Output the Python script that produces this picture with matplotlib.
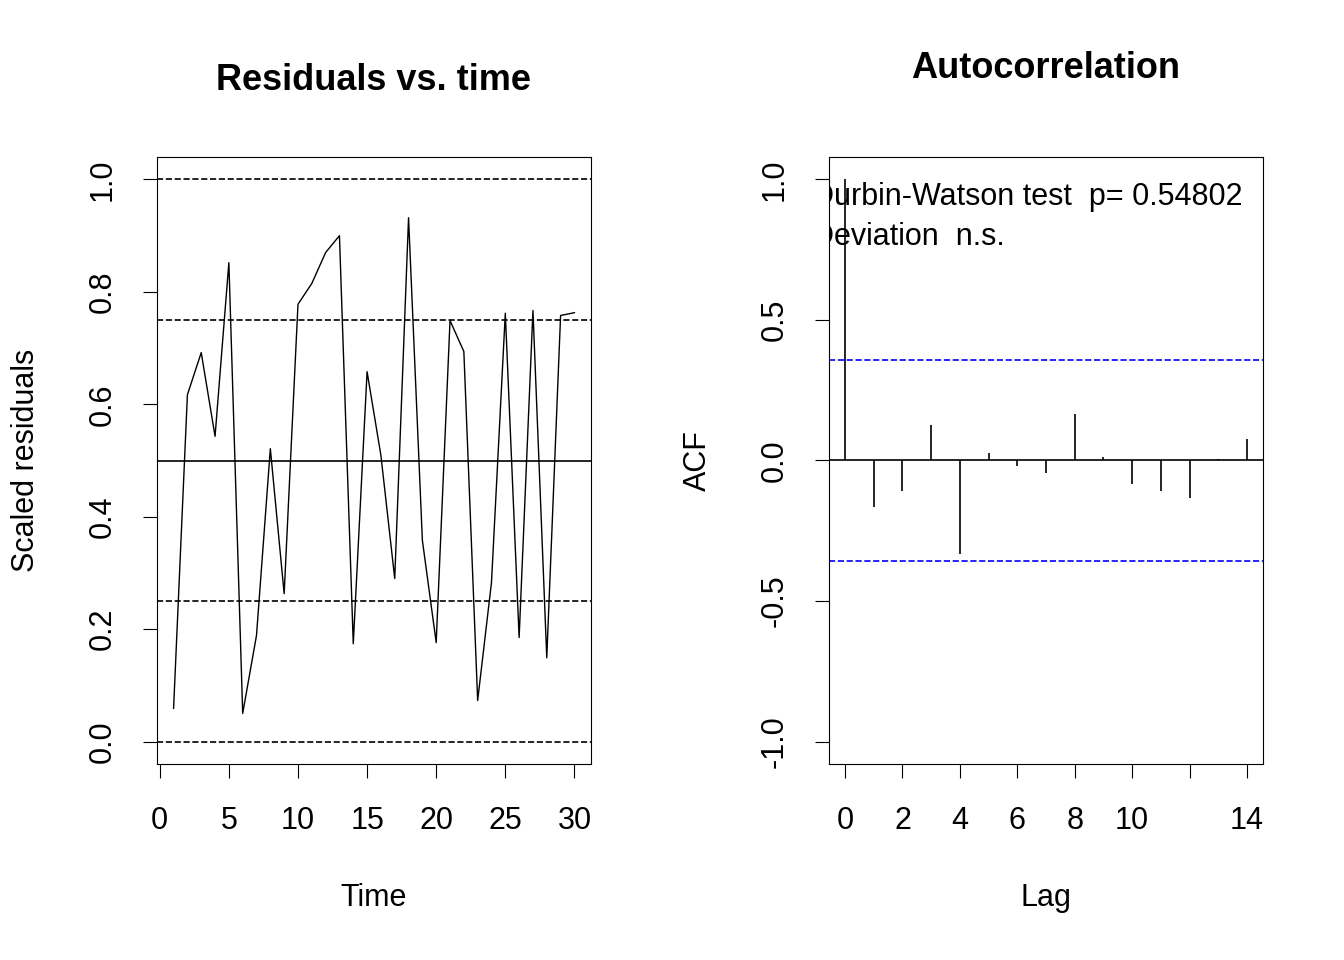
#!/usr/bin/env python

from matplotlib import pyplot as plt
import numpy as np

plt.rcParams["font.family"] = ["Liberation Sans", "DejaVu Sans"]

time = np.arange(1, 31)
resid = [0.059, 0.617, 0.692, 0.543, 0.852, 0.050, 0.189, 0.521, 0.263, 0.778,
         0.815, 0.870, 0.900, 0.174, 0.658, 0.509, 0.290, 0.932, 0.358, 0.176,
         0.749, 0.694, 0.073, 0.283, 0.762, 0.185, 0.767, 0.149, 0.758, 0.763]
lags = np.arange(0, 15)
acf = [1.0, -0.167, -0.107, 0.125, -0.331, 0.025, -0.020, -0.046, 0.164, 0.014,
       -0.082, -0.107, -0.135, 0.007, 0.078]
ci = 0.359
dw_p = "0.54802"

W, H = 1344, 960
fig = plt.figure(figsize=(13.44, 9.6), dpi=100)

ax = fig.add_axes([157 / W, 1 - 764 / H, 434 / W, 607 / H])
ax.plot(time, resid, color="black", lw=1)
for h in [0, 0.25, 0.75, 1]:
    ax.axhline(h, color="black", ls="--", lw=1.2)
ax.axhline(0.5, color="black", lw=1.2)
ax.set(xlim=(-0.2, 31.2), ylim=(-0.04, 1.04))
ax.set_xticks([0, 5, 10, 15, 20, 25, 30])
ax.set_yticks([0, 0.2, 0.4, 0.6, 0.8, 1.0])
ax.set_yticklabels(["0.0", "0.2", "0.4", "0.6", "0.8", "1.0"], rotation=90, va="center")
ax.set_xlabel("Time", fontsize=22, labelpad=34)
ax.set_ylabel("Scaled residuals", fontsize=22, labelpad=34)
ax.tick_params(labelsize=22, length=10, pad=18)
ax.tick_params(axis="x", pad=20)
fig.text(374 / W, 1 - 80 / H, "Residuals vs. time", ha="center", va="center",
         fontsize=26, fontweight="bold")

ax = fig.add_axes([829 / W, 1 - 764 / H, 434 / W, 607 / H])
ax.vlines(lags, 0, acf, color="black", lw=1.2)
ax.axhline(0, color="black", lw=1.2)
ax.axhline(ci, color="blue", ls="--", lw=1.2)
ax.axhline(-ci, color="blue", ls="--", lw=1.2)
ax.set(xlim=(-0.56, 14.56), ylim=(-1.08, 1.08))
ax.set_xticks([0, 2, 4, 6, 8, 10, 12, 14])
ax.set_xticklabels(["0", "2", "4", "6", "8", "10", "", "14"])
ax.set_yticks([-1, -0.5, 0, 0.5, 1])
ax.set_yticklabels(["-1.0", "-0.5", "0.0", "0.5", "1.0"], rotation=90, va="center")
ax.set_xlabel("Lag", fontsize=22, labelpad=34)
ax.set_ylabel("ACF", fontsize=22, labelpad=34)
ax.tick_params(labelsize=22, length=10, pad=18)
ax.tick_params(axis="x", pad=20)
ax.text(-0.04, 0.934, "Durbin-Watson test  p= " + dw_p, transform=ax.transAxes,
        fontsize=22, va="center", clip_on=True)
ax.text(-0.04, 0.868, "Deviation  n.s.", transform=ax.transAxes,
        fontsize=22, va="center", clip_on=True)
fig.text(1046 / W, 1 - 68 / H, "Autocorrelation", ha="center", va="center",
         fontsize=26, fontweight="bold")

fig.savefig("out.png")
plt.close()
